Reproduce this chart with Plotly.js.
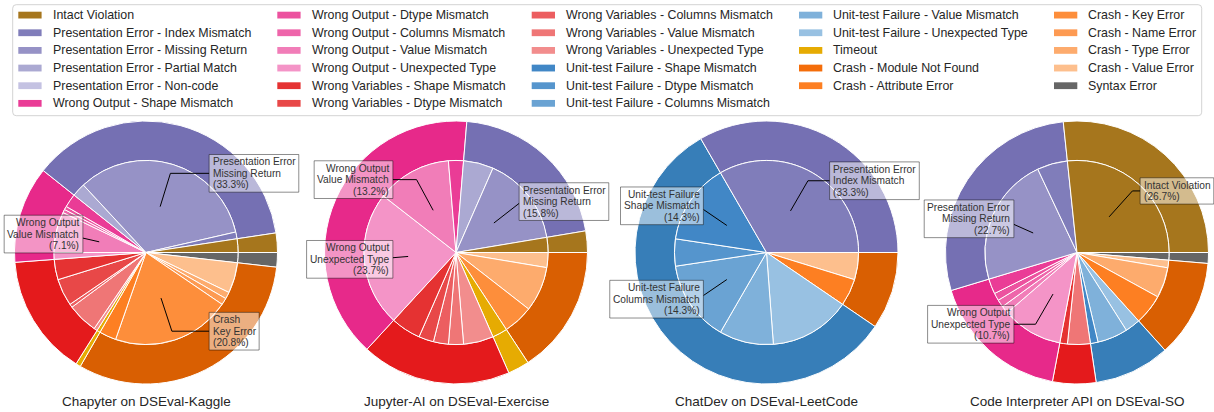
<!DOCTYPE html>
<html>
<head>
<meta charset="utf-8">
<script src="https://cdn.plot.ly/plotly-3.0.1.min.js"></script>
<style>
html,body{margin:0;padding:0;background:#ffffff;}
#chart{width:1214px;height:412px;}
</style>
</head>
<body>
<div id="chart"></div>
<script>
// ---------------- DATA ----------------
const categories = ["Intact Violation", "Presentation Error", "Wrong Output", "Wrong Variables",
  "Unit-test Failure", "Timeout", "Crash", "Syntax Error"];
const categoryColors = ["#a6761d", "#7570b3", "#e7298a", "#e41a1c", "#377eb8", "#e6ab02", "#d95f02", "#666666"];

const subLabels = [
  "Intact Violation",
  "Presentation Error - Index Mismatch", "Presentation Error - Missing Return",
  "Presentation Error - Partial Match", "Presentation Error - Non-code",
  "Wrong Output - Shape Mismatch", "Wrong Output - Dtype Mismatch", "Wrong Output - Columns Mismatch",
  "Wrong Output - Value Mismatch", "Wrong Output - Unexpected Type",
  "Wrong Variables - Shape Mismatch", "Wrong Variables - Dtype Mismatch", "Wrong Variables - Columns Mismatch",
  "Wrong Variables - Value Mismatch", "Wrong Variables - Unexpected Type",
  "Unit-test Failure - Shape Mismatch", "Unit-test Failure - Dtype Mismatch", "Unit-test Failure - Columns Mismatch",
  "Unit-test Failure - Value Mismatch", "Unit-test Failure - Unexpected Type",
  "Timeout",
  "Crash - Module Not Found", "Crash - Attribute Error", "Crash - Key Error",
  "Crash - Name Error", "Crash - Type Error", "Crash - Value Error",
  "Syntax Error"
];
const subColors = [
  "#a6761d",
  "#807dba", "#9692c6", "#aba9d2", "#c4c2e2",
  "#ea3c96", "#ec529f", "#ee65aa", "#f17db8", "#f494c7",
  "#e53232", "#e84848", "#ec5e60", "#ef7676", "#f28d8d",
  "#4187c6", "#5595cd", "#6aa3d3", "#7fb1da", "#98c1e2",
  "#e6ab02",
  "#f46d0a", "#fd7f22", "#fd8e3b", "#fd9a52", "#fdab6d", "#fdbf8d",
  "#666666"
];

const panelTitles = ["Chapyter on DSEval-Kaggle", "Jupyter-AI on DSEval-Exercise",
  "ChatDev on DSEval-LeetCode", "Code Interpreter API on DSEval-SO"];

// counts per sub-category, same order as subLabels
const chapyterCounts =        [4, 2, 56, 4, 0, 4, 1, 1, 12, 2, 6, 8, 1, 9, 1, 0, 0, 0, 0, 0, 1, 0, 5, 35, 2, 2, 9, 3];
const jupyterAiCounts =       [1, 0, 6, 2, 0, 1, 0, 0, 5, 9, 2, 1, 1, 1, 2, 0, 0, 0, 0, 0, 1, 0, 0, 2, 0, 3, 1, 0];
const chatDevCounts =         [0, 7, 0, 0, 0, 0, 0, 0, 0, 0, 0, 0, 0, 0, 0, 3, 1, 3, 2, 3, 0, 0, 1, 0, 0, 0, 1, 0];
const codeInterpreterCounts = [20, 4, 17, 0, 0, 2, 1, 1, 1, 8, 1, 0, 0, 3, 0, 1, 0, 0, 4, 2, 0, 0, 4, 0, 0, 4, 1, 1];

// ---------------- LAYOUT HELPERS ----------------
const W = 1214, H = 412;
const FONT = "Liberation Sans, Arial, Helvetica, sans-serif";
const CANVAS_FONT = '"Liberation Sans", Arial, Helvetica, sans-serif';
const TEXT_COLOR = "#262626";
const panels = [chapyterCounts, jupyterAiCounts, chatDevCounts, codeInterpreterCounts];
const centersX = [146, 456, 766.5, 1077];
const CY = 252.5, R = 131.5, INNER = 0.7;

const fx = p => p / W;
const fy = p => 1 - p / H;
const ctx = document.createElement("canvas").getContext("2d");
function measure(t, size) { ctx.font = size + "px " + CANVAS_FONT; return ctx.measureText(t).width; }
const sum = a => a.reduce((s, v) => s + v, 0);
const catOf = subLabels.map(l => categories.indexOf(l.split(" - ")[0]));

const traces = [], shapes = [], annotations = [];

function clipPolylineFromBox(pts, box) {
  // pts[0] inside box; find where polyline leaves box; return remaining polyline
  const inside = p => p[0] >= box.x0 - 1e-9 && p[0] <= box.x1 + 1e-9 && p[1] >= box.y0 - 1e-9 && p[1] <= box.y1 + 1e-9;
  for (let i = 0; i < pts.length - 1; i++) {
    const P = pts[i], Q = pts[i + 1];
    if (inside(Q)) continue;
    const dx = Q[0] - P[0], dy = Q[1] - P[1];
    let tExit = 1;
    if (dx > 0) tExit = Math.min(tExit, (box.x1 - P[0]) / dx);
    if (dx < 0) tExit = Math.min(tExit, (box.x0 - P[0]) / dx);
    if (dy > 0) tExit = Math.min(tExit, (box.y1 - P[1]) / dy);
    if (dy < 0) tExit = Math.min(tExit, (box.y0 - P[1]) / dy);
    tExit = Math.max(0, tExit);
    const E = [P[0] + tExit * dx, P[1] + tExit * dy];
    return [E].concat(pts.slice(i + 1));
  }
  return [pts[pts.length - 1]];
}

panels.forEach((counts, p) => {
  const cx = centersX[p];
  const total = sum(counts);
  const inner = subLabels.map((l, i) => ({ label: l, v: counts[i], color: subColors[i] })).filter(d => d.v > 0);
  const outer = categories.map((c, k) => ({
    label: c, v: sum(counts.filter((v, i) => catOf[i] === k)), color: categoryColors[k]
  })).filter(d => d.v > 0);

  const Ro = R, Ri = R * INNER;
  const rev = a => a.slice().reverse();
  traces.push({
    type: "pie", sort: false, direction: "clockwise", rotation: 90,
    values: rev(outer.map(d => d.v)), labels: rev(outer.map(d => d.label)),
    marker: { colors: rev(outer.map(d => d.color)), line: { color: "#ffffff", width: 1 } },
    hole: INNER, textinfo: "none", hoverinfo: "skip", showlegend: false,
    domain: { x: [fx(cx - Ro), fx(cx + Ro)], y: [fy(CY + Ro), fy(CY - Ro)] }
  });
  traces.push({
    type: "pie", sort: false, direction: "clockwise", rotation: 90,
    values: rev(inner.map(d => d.v)), labels: rev(inner.map(d => d.label)),
    marker: { colors: rev(inner.map(d => d.color)), line: { color: "#ffffff", width: 1 } },
    textinfo: "none", hoverinfo: "skip", showlegend: false,
    domain: { x: [fx(cx - Ri), fx(cx + Ri)], y: [fy(CY + Ri), fy(CY - Ri)] }
  });

  // mid angles (counter-clockwise from 3 o'clock)
  let cum = 0;
  inner.forEach(d => { const a0 = cum / total * 360; cum += d.v; const a1 = cum / total * 360; d.mid = (a0 + a1) / 2; });
  const top = inner.map((d, i) => i).sort((a, b) => inner[b].v - inner[a].v || a - b).slice(0, 3);

  top.forEach(idx => {
    const d = inner[idx];
    const a = d.mid * Math.PI / 180;
    const side = Math.cos(a) >= 0 ? 1 : -1;
    const xyP = [cx + 0.365 * Math.cos(a) * R, CY - 0.365 * Math.sin(a) * R];
    const ycen = CY - 0.63 * Math.sin(a) * R;
    const pct = (d.v / total * 100).toFixed(1) + "%";
    const lines = d.label.split(" - ").concat(["(" + pct + ")"]);
    const fs = 10.2, lh = 11.4, pad = 3.5;
    const tw = Math.max(...lines.map(l => measure(l, fs)));
    const bw = tw + 2 * pad, bh = lines.length * lh + 3.5;
    const edgeX = cx + side * 0.48 * R;
    const bx0 = side > 0 ? edgeX : edgeX - bw, bx1 = bx0 + bw;
    const by0 = ycen - bh / 2, by1 = ycen + bh / 2;

    // leader line (angle connection: horizontal from text, then along slice angle)
    const posA = [(bx0 + bx1) / 2, ycen];
    let pts;
    const s = Math.sin(a);
    if (Math.abs(s) < 1e-6) pts = [posA, xyP];
    else {
      const t = (ycen - xyP[1]) / (-s);
      const bend = [xyP[0] + t * Math.cos(a), ycen];
      pts = [posA, bend, xyP];
    }
    const vis = clipPolylineFromBox(pts, { x0: bx0, x1: bx1, y0: by0, y1: by1 });
    if (vis.length >= 2) {
      shapes.push({
        type: "path", xref: "paper", yref: "paper", layer: "above",
        path: vis.map((q, k) => (k ? "L" : "M") + fx(q[0]) + "," + fy(q[1])).join(" "),
        line: { color: "#000000", width: 1 }
      });
    }
    shapes.push({
      type: "rect", xref: "paper", yref: "paper", layer: "above",
      x0: fx(bx0), x1: fx(bx1), y0: fy(by1), y1: fy(by0),
      fillcolor: "rgba(255,255,255,0.5)", line: { color: "rgba(0,0,0,0.45)", width: 1 }
    });
    lines.forEach((ln, j) => {
      annotations.push({
        xref: "paper", yref: "paper", showarrow: false,
        x: fx(side > 0 ? bx0 + pad : bx1 - pad), xanchor: side > 0 ? "left" : "right",
        y: fy(by0 + 1.75 + lh * (j + 0.5)), yanchor: "middle",
        text: ln, font: { family: FONT, size: fs, color: "#333333" },
        borderpad: 0, borderwidth: 0
      });
    });
  });

  // panel title
  annotations.push({
    xref: "paper", yref: "paper", showarrow: false,
    x: fx(cx), y: fy(401.7), xanchor: "center", yanchor: "middle",
    text: panelTitles[p], font: { family: FONT, size: 13.5, color: TEXT_COLOR }
  });
});

// ---------------- LEGEND (column-major, 5 columns) ----------------
const lgX0 = 12.7, lgX1 = 1201.7, lgY0 = 4.7, lgY1 = 115.7, rr = 3.5;
shapes.push({
  type: "path", xref: "paper", yref: "paper", layer: "above",
  path: `M${fx(lgX0 + rr)},${fy(lgY0)} L${fx(lgX1 - rr)},${fy(lgY0)} Q${fx(lgX1)},${fy(lgY0)} ${fx(lgX1)},${fy(lgY0 + rr)} ` +
        `L${fx(lgX1)},${fy(lgY1 - rr)} Q${fx(lgX1)},${fy(lgY1)} ${fx(lgX1 - rr)},${fy(lgY1)} ` +
        `L${fx(lgX0 + rr)},${fy(lgY1)} Q${fx(lgX0)},${fy(lgY1)} ${fx(lgX0)},${fy(lgY1 - rr)} ` +
        `L${fx(lgX0)},${fy(lgY0 + rr)} Q${fx(lgX0)},${fy(lgY0)} ${fx(lgX0 + rr)},${fy(lgY0)} Z`,
  fillcolor: "rgba(255,255,255,0.8)", line: { color: "#d3d3d3", width: 1 }
});
const ncol = 5;
const nItems = subLabels.length;
const base = Math.floor(nItems / ncol), extra = nItems % ncol;
const colSwatchX = [18.3, 277.3, 531.7, 799, 1054];
let itemIdx = 0;
for (let c = 0; c < ncol; c++) {
  const nRows = base + (c < extra ? 1 : 0);
  for (let r = 0; r < nRows; r++, itemIdx++) {
    const yc = 15.1 + r * 17.65;
    const sx = colSwatchX[c];
    shapes.push({
      type: "rect", xref: "paper", yref: "paper", layer: "above",
      x0: fx(sx), x1: fx(sx + 23.3), y0: fy(yc + 3.4), y1: fy(yc - 3.4),
      fillcolor: subColors[itemIdx], line: { width: 0 }
    });
    annotations.push({
      xref: "paper", yref: "paper", showarrow: false,
      x: fx(sx + 34.4), y: fy(yc), xanchor: "left", yanchor: "middle",
      text: subLabels[itemIdx], font: { family: FONT, size: 12.4, color: TEXT_COLOR },
      borderpad: 0, borderwidth: 0
    });
  }
}

const layout = {
  width: W, height: H,
  margin: { l: 0, r: 0, t: 0, b: 0, pad: 0 },
  paper_bgcolor: "#ffffff", plot_bgcolor: "#ffffff",
  showlegend: false,
  font: { family: FONT, color: TEXT_COLOR },
  shapes: shapes, annotations: annotations
};
Plotly.newPlot("chart", traces, layout, { staticPlot: true, displayModeBar: false });
</script>
</body>
</html>
